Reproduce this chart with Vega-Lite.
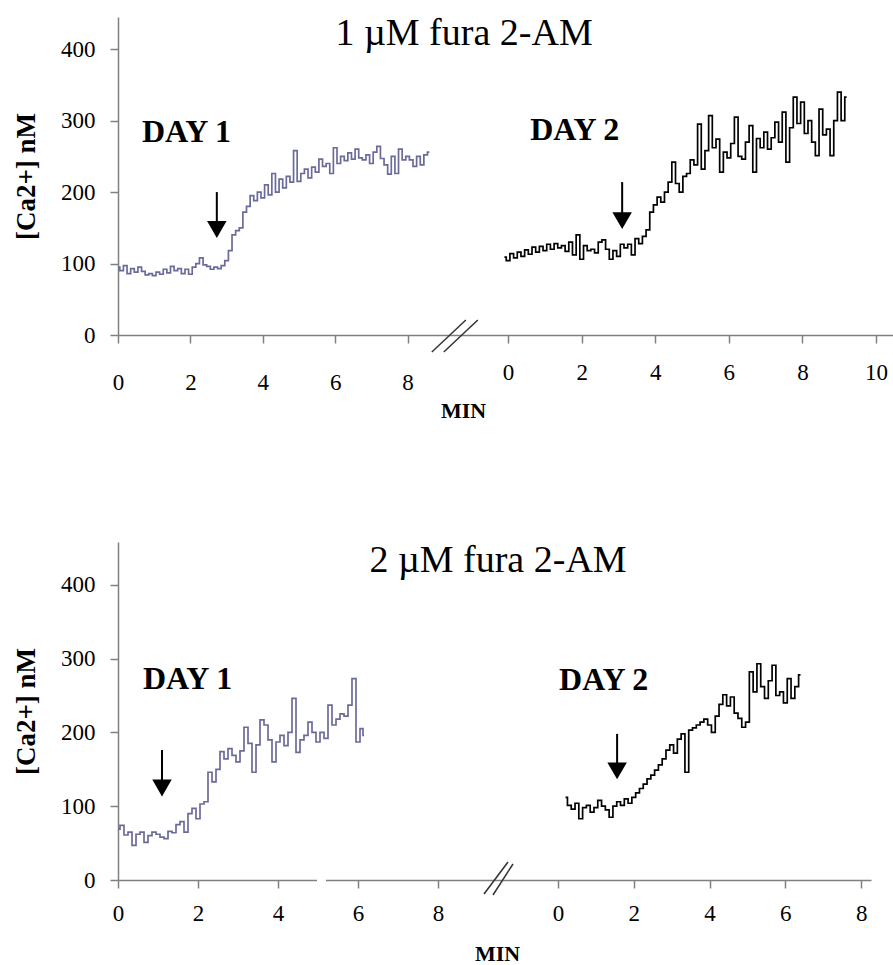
{
  "$schema": "https://vega.github.io/schema/vega-lite/v6.json",
  "padding": {"left": 12, "top": 15, "right": 0, "bottom": 0},
  "bounds": "flush",
  "spacing": 207,
  "config": {
    "view": {"stroke": null},
    "font": "Liberation Serif",
    "axis": {"grid": false, "domainColor": "#808080", "tickColor": "#808080", "labelColor": "#000", "titleColor": "#000", "labelFont": "Liberation Serif", "titleFont": "Liberation Serif", "labelFontSize": 23, "labelFlush": false, "labelOverlap": false, "labelBound": false, "domainWidth": 1.5, "tickWidth": 1.5, "zindex": 0}
  },
  "datasets": {
    "top_day1": [
      {"t":0,"ca":95},{"t":0.1,"ca":90},{"t":0.2,"ca":97},{"t":0.3,"ca":86},{"t":0.4,"ca":93},{"t":0.5,"ca":88},{"t":0.6,"ca":95},{"t":0.7,"ca":89},{"t":0.8,"ca":84},{"t":0.9,"ca":86},
      {"t":1.0,"ca":83},{"t":1.1,"ca":88},{"t":1.2,"ca":85},{"t":1.3,"ca":92},{"t":1.4,"ca":87},{"t":1.5,"ca":96},{"t":1.6,"ca":90},{"t":1.7,"ca":93},{"t":1.8,"ca":86},{"t":1.9,"ca":92},
      {"t":2.0,"ca":85},{"t":2.1,"ca":95},{"t":2.2,"ca":100},{"t":2.3,"ca":108},{"t":2.4,"ca":98},{"t":2.5,"ca":96},{"t":2.6,"ca":92},{"t":2.7,"ca":95},{"t":2.8,"ca":93},{"t":2.9,"ca":97},
      {"t":3.0,"ca":104},{"t":3.1,"ca":118},{"t":3.2,"ca":140},{"t":3.3,"ca":146},{"t":3.4,"ca":150},{"t":3.5,"ca":172},{"t":3.6,"ca":180},{"t":3.7,"ca":195},{"t":3.8,"ca":188},{"t":3.9,"ca":200},
      {"t":4.0,"ca":192},{"t":4.1,"ca":210},{"t":4.2,"ca":196},{"t":4.3,"ca":226},{"t":4.4,"ca":200},{"t":4.5,"ca":218},{"t":4.6,"ca":206},{"t":4.7,"ca":222},{"t":4.8,"ca":214},{"t":4.9,"ca":258},
      {"t":5.0,"ca":215},{"t":5.1,"ca":226},{"t":5.2,"ca":232},{"t":5.3,"ca":220},{"t":5.4,"ca":235},{"t":5.5,"ca":228},{"t":5.6,"ca":246},{"t":5.7,"ca":236},{"t":5.8,"ca":240},{"t":5.9,"ca":226},
      {"t":6.0,"ca":262},{"t":6.1,"ca":240},{"t":6.2,"ca":250},{"t":6.3,"ca":244},{"t":6.4,"ca":255},{"t":6.5,"ca":246},{"t":6.6,"ca":260},{"t":6.7,"ca":248},{"t":6.8,"ca":245},{"t":6.9,"ca":252},
      {"t":7.0,"ca":240},{"t":7.1,"ca":256},{"t":7.2,"ca":264},{"t":7.3,"ca":247},{"t":7.4,"ca":238},{"t":7.5,"ca":225},{"t":7.6,"ca":250},{"t":7.7,"ca":226},{"t":7.8,"ca":260},{"t":7.9,"ca":245},
      {"t":8.0,"ca":250},{"t":8.1,"ca":245},{"t":8.2,"ca":236},{"t":8.3,"ca":250},{"t":8.4,"ca":238},{"t":8.5,"ca":252},{"t":8.6,"ca":256}
    ],
    "top_day2": [
      {"t":-0.1,"ca":109},{"t":0,"ca":104},{"t":0.1,"ca":114},{"t":0.2,"ca":108},{"t":0.3,"ca":116},{"t":0.4,"ca":110},{"t":0.5,"ca":119},{"t":0.6,"ca":113},{"t":0.7,"ca":123},{"t":0.8,"ca":116},{"t":0.9,"ca":124},
      {"t":1.0,"ca":118},{"t":1.1,"ca":127},{"t":1.2,"ca":120},{"t":1.3,"ca":128},{"t":1.4,"ca":122},{"t":1.5,"ca":125},{"t":1.6,"ca":117},{"t":1.7,"ca":130},{"t":1.8,"ca":112},{"t":1.9,"ca":140},
      {"t":2.0,"ca":106},{"t":2.1,"ca":125},{"t":2.2,"ca":118},{"t":2.3,"ca":120},{"t":2.4,"ca":115},{"t":2.5,"ca":130},{"t":2.6,"ca":133},{"t":2.7,"ca":120},{"t":2.8,"ca":106},{"t":2.9,"ca":118},
      {"t":3.0,"ca":110},{"t":3.1,"ca":127},{"t":3.2,"ca":122},{"t":3.3,"ca":127},{"t":3.4,"ca":112},{"t":3.5,"ca":135},{"t":3.6,"ca":128},{"t":3.7,"ca":138},{"t":3.8,"ca":147},{"t":3.9,"ca":172},
      {"t":4.0,"ca":182},{"t":4.1,"ca":193},{"t":4.2,"ca":186},{"t":4.3,"ca":200},{"t":4.4,"ca":214},{"t":4.5,"ca":242},{"t":4.6,"ca":212},{"t":4.7,"ca":200},{"t":4.8,"ca":222},{"t":4.9,"ca":226},
      {"t":5.0,"ca":245},{"t":5.1,"ca":238},{"t":5.2,"ca":295},{"t":5.3,"ca":232},{"t":5.4,"ca":258},{"t":5.5,"ca":307},{"t":5.6,"ca":262},{"t":5.7,"ca":274},{"t":5.8,"ca":228},{"t":5.9,"ca":256},
      {"t":6.0,"ca":248},{"t":6.1,"ca":268},{"t":6.2,"ca":305},{"t":6.3,"ca":250},{"t":6.4,"ca":246},{"t":6.5,"ca":270},{"t":6.6,"ca":293},{"t":6.7,"ca":228},{"t":6.8,"ca":275},{"t":6.9,"ca":262},
      {"t":7.0,"ca":284},{"t":7.1,"ca":260},{"t":7.2,"ca":276},{"t":7.3,"ca":298},{"t":7.4,"ca":270},{"t":7.5,"ca":312},{"t":7.6,"ca":242},{"t":7.7,"ca":290},{"t":7.8,"ca":333},{"t":7.9,"ca":296},
      {"t":8.0,"ca":326},{"t":8.1,"ca":282},{"t":8.2,"ca":300},{"t":8.3,"ca":270},{"t":8.4,"ca":251},{"t":8.5,"ca":316},{"t":8.6,"ca":280},{"t":8.7,"ca":288},{"t":8.8,"ca":251},{"t":8.9,"ca":300},
      {"t":9.0,"ca":340},{"t":9.1,"ca":300},{"t":9.2,"ca":333}
    ],
    "bot_day1": [
      {"t":0,"ca":69},{"t":0.1,"ca":74},{"t":0.2,"ca":61},{"t":0.3,"ca":65},{"t":0.4,"ca":47},{"t":0.5,"ca":62},{"t":0.6,"ca":65},{"t":0.7,"ca":51},{"t":0.8,"ca":60},{"t":0.9,"ca":65},
      {"t":1.0,"ca":62},{"t":1.1,"ca":58},{"t":1.2,"ca":56},{"t":1.3,"ca":66},{"t":1.4,"ca":64},{"t":1.5,"ca":75},{"t":1.6,"ca":79},{"t":1.7,"ca":65},{"t":1.8,"ca":90},{"t":1.9,"ca":97},
      {"t":2.0,"ca":83},{"t":2.1,"ca":103},{"t":2.2,"ca":106},{"t":2.3,"ca":146},{"t":2.4,"ca":133},{"t":2.5,"ca":150},{"t":2.6,"ca":174},{"t":2.7,"ca":164},{"t":2.8,"ca":178},{"t":2.9,"ca":169},
      {"t":3.0,"ca":160},{"t":3.1,"ca":175},{"t":3.2,"ca":207},{"t":3.3,"ca":185},{"t":3.4,"ca":146},{"t":3.5,"ca":183},{"t":3.6,"ca":217},{"t":3.7,"ca":210},{"t":3.8,"ca":190},{"t":3.9,"ca":160},
      {"t":4.0,"ca":187},{"t":4.1,"ca":196},{"t":4.2,"ca":182},{"t":4.3,"ca":200},{"t":4.4,"ca":246},{"t":4.5,"ca":173},{"t":4.6,"ca":190},{"t":4.7,"ca":196},{"t":4.8,"ca":214},{"t":4.9,"ca":200},
      {"t":5.0,"ca":187},{"t":5.1,"ca":200},{"t":5.2,"ca":192},{"t":5.3,"ca":237},{"t":5.4,"ca":210},{"t":5.5,"ca":218},{"t":5.6,"ca":225},{"t":5.7,"ca":222},{"t":5.8,"ca":237},{"t":5.9,"ca":273},
      {"t":6.0,"ca":187},{"t":6.1,"ca":205},{"t":6.15,"ca":196}
    ],
    "bot_day2": [
      {"t":0.2,"ca":112},{"t":0.3,"ca":101},{"t":0.4,"ca":96},{"t":0.5,"ca":104},{"t":0.6,"ca":83},{"t":0.7,"ca":98},{"t":0.8,"ca":101},{"t":0.9,"ca":92},
      {"t":1.0,"ca":98},{"t":1.1,"ca":108},{"t":1.2,"ca":100},{"t":1.3,"ca":95},{"t":1.4,"ca":85},{"t":1.5,"ca":100},{"t":1.6,"ca":106},{"t":1.7,"ca":101},{"t":1.8,"ca":110},{"t":1.9,"ca":104},
      {"t":2.0,"ca":112},{"t":2.1,"ca":118},{"t":2.2,"ca":124},{"t":2.3,"ca":130},{"t":2.4,"ca":137},{"t":2.5,"ca":142},{"t":2.6,"ca":149},{"t":2.7,"ca":156},{"t":2.8,"ca":164},{"t":2.9,"ca":176},
      {"t":3.0,"ca":183},{"t":3.1,"ca":172},{"t":3.2,"ca":191},{"t":3.3,"ca":198},{"t":3.4,"ca":146},{"t":3.5,"ca":203},{"t":3.6,"ca":206},{"t":3.7,"ca":210},{"t":3.8,"ca":214},{"t":3.9,"ca":218},
      {"t":4.0,"ca":210},{"t":4.1,"ca":200},{"t":4.2,"ca":222},{"t":4.3,"ca":238},{"t":4.4,"ca":251},{"t":4.5,"ca":236},{"t":4.6,"ca":248},{"t":4.7,"ca":226},{"t":4.8,"ca":219},{"t":4.9,"ca":207},
      {"t":5.0,"ca":214},{"t":5.1,"ca":282},{"t":5.2,"ca":255},{"t":5.3,"ca":293},{"t":5.4,"ca":262},{"t":5.5,"ca":246},{"t":5.6,"ca":270},{"t":5.7,"ca":291},{"t":5.8,"ca":250},{"t":5.9,"ca":255},
      {"t":6.0,"ca":240},{"t":6.1,"ca":273},{"t":6.2,"ca":246},{"t":6.3,"ca":262},{"t":6.4,"ca":278}
    ]
  },
  "vconcat": [
    {
      "width": 775,
      "height": 318,
      "encoding": {
        "y": {"field": "ca", "type": "quantitative", "scale": {"domain": [0, 445], "nice": false, "zero": false},
          "axis": {"values": [0, 100, 200, 300, 400], "title": "[Ca2+] nM", "titleFontWeight": "bold", "titleFontSize": 27, "titlePadding": 20, "tickSize": 8, "labelPadding": 15}}
      },
      "resolve": {"scale": {"x": "independent"}},
      "layer": [
        {
          "encoding": {
            "x": {"field": "t", "type": "quantitative", "scale": {"domain": [0, 21.41], "nice": false, "zero": false},
              "axis": {"orient": "bottom", "values": [0, 2, 4, 6, 8], "title": "MIN", "titleX": 345, "titleFontSize": 22, "titleFontWeight": "bold", "titlePadding": 6, "tickSize": 8, "labelPadding": 28}}
          },
          "layer": [
            {"data": {"name": "top_day1"}, "mark": {"type": "line", "interpolate": "step", "color": "#6b6b9b", "strokeWidth": 1.7}},
            {"data": {"values": [{"t": 9.56, "ca": 405.6, "label": "1 µM fura 2-AM"}]}, "mark": {"type": "text", "fontSize": 38, "align": "center", "baseline": "alphabetic", "color": "#000"}, "encoding": {"text": {"field": "label"}}},
            {"data": {"values": [{"t": 0.66, "ca": 270, "label": "DAY 1"}]}, "mark": {"type": "text", "fontSize": 32, "fontWeight": "bold", "align": "left", "baseline": "alphabetic", "color": "#000"}, "encoding": {"text": {"field": "label"}}},
            {"data": {"values": [{"t": 2.73, "ca": 200, "ca2": 155}]}, "mark": {"type": "rule", "strokeWidth": 2, "color": "#000"}, "encoding": {"y2": {"field": "ca2"}}},
            {"data": {"values": [{"t": 2.73, "ca": 147.6}]}, "mark": {"type": "point", "shape": "triangle-down", "filled": true, "size": 380, "color": "#000", "opacity": 1}},
            {"data": {"values": [{"t": 8.67, "t2": 9.61, "ca": -23.8, "ca2": 21}, {"t": 9.0, "t2": 9.94, "ca": -23.8, "ca2": 21}]}, "mark": {"type": "rule", "strokeWidth": 1.5, "color": "#333"}, "encoding": {"x2": {"field": "t2"}, "y2": {"field": "ca2"}}}
          ]
        },
        {
          "encoding": {
            "x": {"field": "t", "type": "quantitative", "scale": {"domain": [-10.6, 10.46], "nice": false, "zero": false},
              "axis": {"orient": "bottom", "values": [0, 2, 4, 6, 8, 10], "title": null, "domain": false, "tickSize": 8, "labelPadding": 18}}
          },
          "layer": [
            {"data": {"name": "top_day2"}, "mark": {"type": "line", "interpolate": "step", "color": "#000", "strokeWidth": 1.7}},
            {"data": {"values": [{"t": 0.6, "ca": 272.7, "label": "DAY 2"}]}, "mark": {"type": "text", "fontSize": 32, "fontWeight": "bold", "align": "left", "baseline": "alphabetic", "color": "#000"}, "encoding": {"text": {"field": "label"}}},
            {"data": {"values": [{"t": 3.1, "ca": 214, "ca2": 168}]}, "mark": {"type": "rule", "strokeWidth": 2, "color": "#000"}, "encoding": {"y2": {"field": "ca2"}}},
            {"data": {"values": [{"t": 3.1, "ca": 160}]}, "mark": {"type": "point", "shape": "triangle-down", "filled": true, "size": 380, "color": "#000", "opacity": 1}}
          ]
        }
      ]
    },
    {
      "width": 753,
      "height": 338,
      "encoding": {
        "y": {"field": "ca", "type": "quantitative", "scale": {"domain": [0, 458], "nice": false, "zero": false},
          "axis": {"values": [0, 100, 200, 300, 400], "title": "[Ca2+] nM", "titleFontWeight": "bold", "titleFontSize": 27, "titlePadding": 20, "tickSize": 8, "labelPadding": 15}}
      },
      "resolve": {"scale": {"x": "independent"}},
      "layer": [
        {
          "encoding": {
            "x": {"field": "t", "type": "quantitative", "scale": {"domain": [0, 18.825], "nice": false, "zero": false},
              "axis": {"orient": "bottom", "values": [0, 2, 4, 6, 8], "title": "MIN", "titleX": 379, "titleFontSize": 22, "titleFontWeight": "bold", "titlePadding": 18, "tickSize": 8, "labelPadding": 14}}
          },
          "layer": [
            {"data": {"name": "bot_day1"}, "mark": {"type": "line", "interpolate": "step", "color": "#6b6b9b", "strokeWidth": 1.7}},
            {"data": {"values": [{"t": 9.5, "ca": 417.6, "label": "2 µM fura 2-AM"}]}, "mark": {"type": "text", "fontSize": 38, "align": "center", "baseline": "alphabetic", "color": "#000"}, "encoding": {"text": {"field": "label"}}},
            {"data": {"values": [{"t": 0.625, "ca": 259, "label": "DAY 1"}]}, "mark": {"type": "text", "fontSize": 32, "fontWeight": "bold", "align": "left", "baseline": "alphabetic", "color": "#000"}, "encoding": {"text": {"field": "label"}}},
            {"data": {"values": [{"t": 1.1, "ca": 176, "ca2": 130}]}, "mark": {"type": "rule", "strokeWidth": 2, "color": "#000"}, "encoding": {"y2": {"field": "ca2"}}},
            {"data": {"values": [{"t": 1.1, "ca": 124.7}]}, "mark": {"type": "point", "shape": "triangle-down", "filled": true, "size": 380, "color": "#000", "opacity": 1}},
            {"data": {"values": [{"t": 4.975, "t2": 5.2, "ca": 0}]}, "mark": {"type": "rule", "strokeWidth": 4, "color": "#ffffff"}, "encoding": {"x2": {"field": "t2"}}},
            {"data": {"values": [{"t": 9.15, "t2": 9.75, "ca": -19, "ca2": 24.4}, {"t": 9.375, "t2": 9.875, "ca": -20.3, "ca2": 21.7}]}, "mark": {"type": "rule", "strokeWidth": 1.5, "color": "#333"}, "encoding": {"x2": {"field": "t2"}, "y2": {"field": "ca2"}}}
          ]
        },
        {
          "encoding": {
            "x": {"field": "t", "type": "quantitative", "scale": {"domain": [-11.61, 8.26], "nice": false, "zero": false},
              "axis": {"orient": "bottom", "values": [0, 2, 4, 6, 8], "title": null, "domain": false, "tickSize": 8, "labelPadding": 14}}
          },
          "layer": [
            {"data": {"name": "bot_day2"}, "mark": {"type": "line", "interpolate": "step", "color": "#000", "strokeWidth": 1.7}},
            {"data": {"values": [{"t": 0.03, "ca": 257.6, "label": "DAY 2"}]}, "mark": {"type": "text", "fontSize": 32, "fontWeight": "bold", "align": "left", "baseline": "alphabetic", "color": "#000"}, "encoding": {"text": {"field": "label"}}},
            {"data": {"values": [{"t": 1.56, "ca": 198, "ca2": 155}]}, "mark": {"type": "rule", "strokeWidth": 2, "color": "#000"}, "encoding": {"y2": {"field": "ca2"}}},
            {"data": {"values": [{"t": 1.56, "ca": 147.8}]}, "mark": {"type": "point", "shape": "triangle-down", "filled": true, "size": 380, "color": "#000", "opacity": 1}}
          ]
        }
      ]
    }
  ]
}
